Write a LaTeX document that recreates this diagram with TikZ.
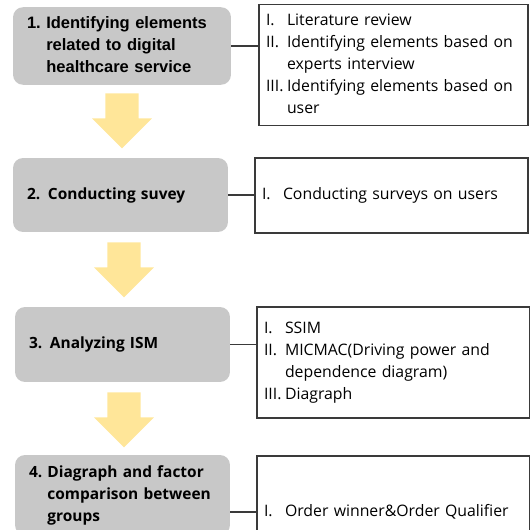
\documentclass[tikz,border=0pt]{standalone}
\usepackage{fontspec}
\setmainfont{Open Sans}
\newfontfamily\arialfont{Liberation Sans}
\usetikzlibrary{shapes.arrows}
\definecolor{step-gray}{HTML}{C8C8C8}
\definecolor{arrow-yellow}{HTML}{FFE699}
\definecolor{frame-gray}{HTML}{3A3A3A}

\begin{document}
\begin{tikzpicture}[x=0.02cm, y=-0.02cm,
    stepbox/.style={fill=step-gray, rounded corners=0.2cm, inner xsep=0.28cm,
      text width=3.74cm, align=left, font=\bfseries\fontsize{8.8}{12.5}\selectfont},
    listbox/.style={draw=frame-gray, line width=0.7pt, inner xsep=0.14cm,
      text width=5.18cm, align=left, font=\fontsize{9}{12.5}\selectfont},
    downarrow/.style={single arrow, fill=arrow-yellow, rotate=-90, anchor=tail,
      inner xsep=0pt, inner ysep=0.3cm, minimum height=1.1cm, minimum width=1.2cm},
    link/.style={draw=frame-gray, line width=0.7pt}]
  \clip (0,0) rectangle (530,530);
  \useasboundingbox (0,0) rectangle (530,530);

  % steps on the left
  \node[stepbox, text width=3.8cm, minimum height=1.52cm,
        font=\bfseries\fontsize{9.4}{12.5}\selectfont] (s1) at (122,46)
    {\arialfont\begin{tabular}{@{}l@{\ }l@{}}1. & Identifying elements\\
      & related to digital\\ & healthcare service\end{tabular}};
  \node[stepbox, minimum height=1.48cm] (s2) at (120.5,195) {2. Conducting suvey};
  \node[stepbox, minimum height=1.5cm] (s3) at (122.5,344.5) {3. Analyzing ISM};
  \node[stepbox, minimum height=1.6cm] (s4) at (122.5,495)
    {\begin{tabular}{@{}l@{\ }l@{}}4. & Diagraph and factor\\
      & comparison between\\ & groups\end{tabular}};

  % arrows between the steps
  \node[downarrow] (a1) at (122,93) {};
  \node[downarrow] (a2) at (124,242) {};
  \node[downarrow] (a3) at (124,392) {};

  % what each step consists of
  \node[listbox, text width=5.1cm, minimum height=2.28cm] (l1) at (393.5,65)
    {\begin{tabular}{@{}p{0.42cm}@{}l@{}}I. & Literature review\\
      II. & Identifying elements based on\\ & experts interview\\
      III. & Identifying elements based on\\ & user\end{tabular}};
  \node[listbox, minimum height=1.5cm] (l2) at (391.5,195.5)
    {\begin{tabular}{@{}p{0.42cm}@{}l@{}}I. & Conducting surveys on users\end{tabular}};
  \node[listbox, minimum height=2.22cm] (l3) at (393.5,362.5)
    {\begin{tabular}{@{}p{0.42cm}@{}l@{}}I. & SSIM\\
      II. & MICMAC(Driving power and\\ & dependence diagram)\\
      III. & Diagraph\end{tabular}};
  \node[listbox, minimum height=2.24cm] (l4) at (393.5,512)
    {\begin{tabular}{@{}p{0.42cm}@{}l@{}}I. & Order winner\&Order Qualifier\end{tabular}};

  \draw[link] (s1.east) -- (s1.east -| l1.west);
  \draw[link] (s2.east) -- (s2.east -| l2.west);
  \draw[link] (s3.east) -- (s3.east -| l3.west);
  \draw[link] (l4.west -| s4.east) -- (l4.west);
\end{tikzpicture}
\end{document}
